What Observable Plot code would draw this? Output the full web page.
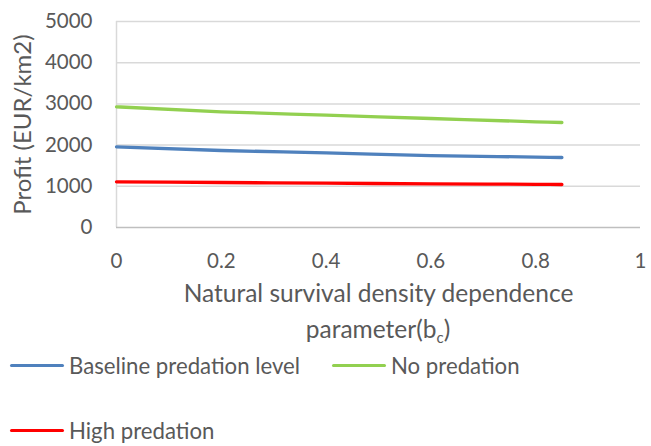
<!DOCTYPE html>
<html>
<head>
<meta charset="utf-8">
<script src="https://cdn.jsdelivr.net/npm/d3@7"></script>
<script src="https://cdn.jsdelivr.net/npm/@observablehq/plot@0.6"></script>
<style>
  body { margin: 0; background: #fff; }
  #chart { position: relative; width: 651px; height: 446px; font-family: Lato, "Open Sans", sans-serif; color: #595959; }
  #chart svg { display: block; }
  .legend { position: absolute; left: 10px; top: 333px; display: grid; grid-template-columns: 322px auto; grid-auto-rows: 65px; }
  .legend .item { display: flex; align-items: center; font-size: 22.2px; }
  .legend .swatch { width: 54px; height: 3.3px; border-radius: 2px; margin-right: 5px; }
</style>
</head>
<body>
<div id="chart"></div>
<script>
// Profit per km2 against the natural survival density dependence parameter b_c
const bc = [0, 0.2, 0.4, 0.6, 0.8, 0.85];
const baseline = [1959, 1869, 1813, 1745, 1709, 1699];
const noPredation = [2930, 2808, 2728, 2646, 2566, 2548];
const highPredation = [1109, 1092, 1075, 1060, 1048, 1044];

const seriesNames = ["Baseline predation level", "No predation", "High predation"];
const seriesColors = ["#4F81BD", "#92D050", "#FF0000"];
const xTicks = [0, 0.2, 0.4, 0.6, 0.8, 1];
const yTicks = [0, 1000, 2000, 3000, 4000, 5000];

const seriesValues = [baseline, noPredation, highPredation];
const rows = seriesValues.flatMap((vals, i) =>
  vals.map((v, j) => ({ bc: bc[j], profit: v, series: seriesNames[i] })));

const chart = Plot.plot({
  width: 651,
  height: 345,
  marginLeft: 116,
  marginRight: 11,
  marginTop: 21,
  marginBottom: 118,
  style: { fontFamily: "Lato, 'Open Sans', sans-serif", fontSize: "20.5px", color: "#595959", background: "#fff" },
  x: { domain: [0, 1] },
  y: { domain: [0, 5000] },
  color: { domain: seriesNames, range: seriesColors },
  marks: [
    Plot.ruleY(yTicks.filter(d => d > 0), { stroke: "#D9D9D9", strokeWidth: 1.5 }),
    Plot.ruleX([0], { stroke: "#D9D9D9", strokeWidth: 1.5 }),
    Plot.ruleY([0], { stroke: "#BFBFBF", strokeWidth: 1.5 }),
    Plot.line(rows, { x: "bc", y: "profit", z: "series", stroke: "series", strokeWidth: 3.3, curve: "monotone-x" }),
    Plot.axisX(xTicks, { tickSize: 0, tickPadding: 26, tickFormat: d => String(d), label: null }),
    Plot.axisY(yTicks, { tickSize: 0, tickPadding: 24, tickFormat: d => String(d), label: null }),
    Plot.text(["Profit (EUR/km2)"], { frameAnchor: "left", textAnchor: "middle", rotate: -90, dx: -93, fontSize: 24, fill: "#595959" }),
    Plot.text(["Natural survival density dependence"], { frameAnchor: "bottom", dy: 74, fontSize: 24.5, fill: "#595959" })
  ]
});

// second line of the x-axis title, with the subscript c
const svg = d3.select(chart);
const t = svg.append("text")
  .attr("x", (116 + 640) / 2)
  .attr("y", 338)
  .attr("text-anchor", "middle")
  .attr("font-size", 24.5)
  .attr("fill", "#595959");
t.append("tspan").text("parameter(b");
t.append("tspan").attr("font-size", 15).attr("dy", 5).text("c");
t.append("tspan").attr("dy", -5).text(")");

const root = document.getElementById("chart");
root.appendChild(chart);

const legend = document.createElement("div");
legend.className = "legend";
seriesNames.forEach((name, i) => {
  const item = document.createElement("div");
  item.className = "item";
  const sw = document.createElement("span");
  sw.className = "swatch";
  sw.style.background = seriesColors[i];
  const label = document.createElement("span");
  label.textContent = name;
  item.append(sw, label);
  legend.appendChild(item);
});
root.appendChild(legend);
</script>
</body>
</html>
